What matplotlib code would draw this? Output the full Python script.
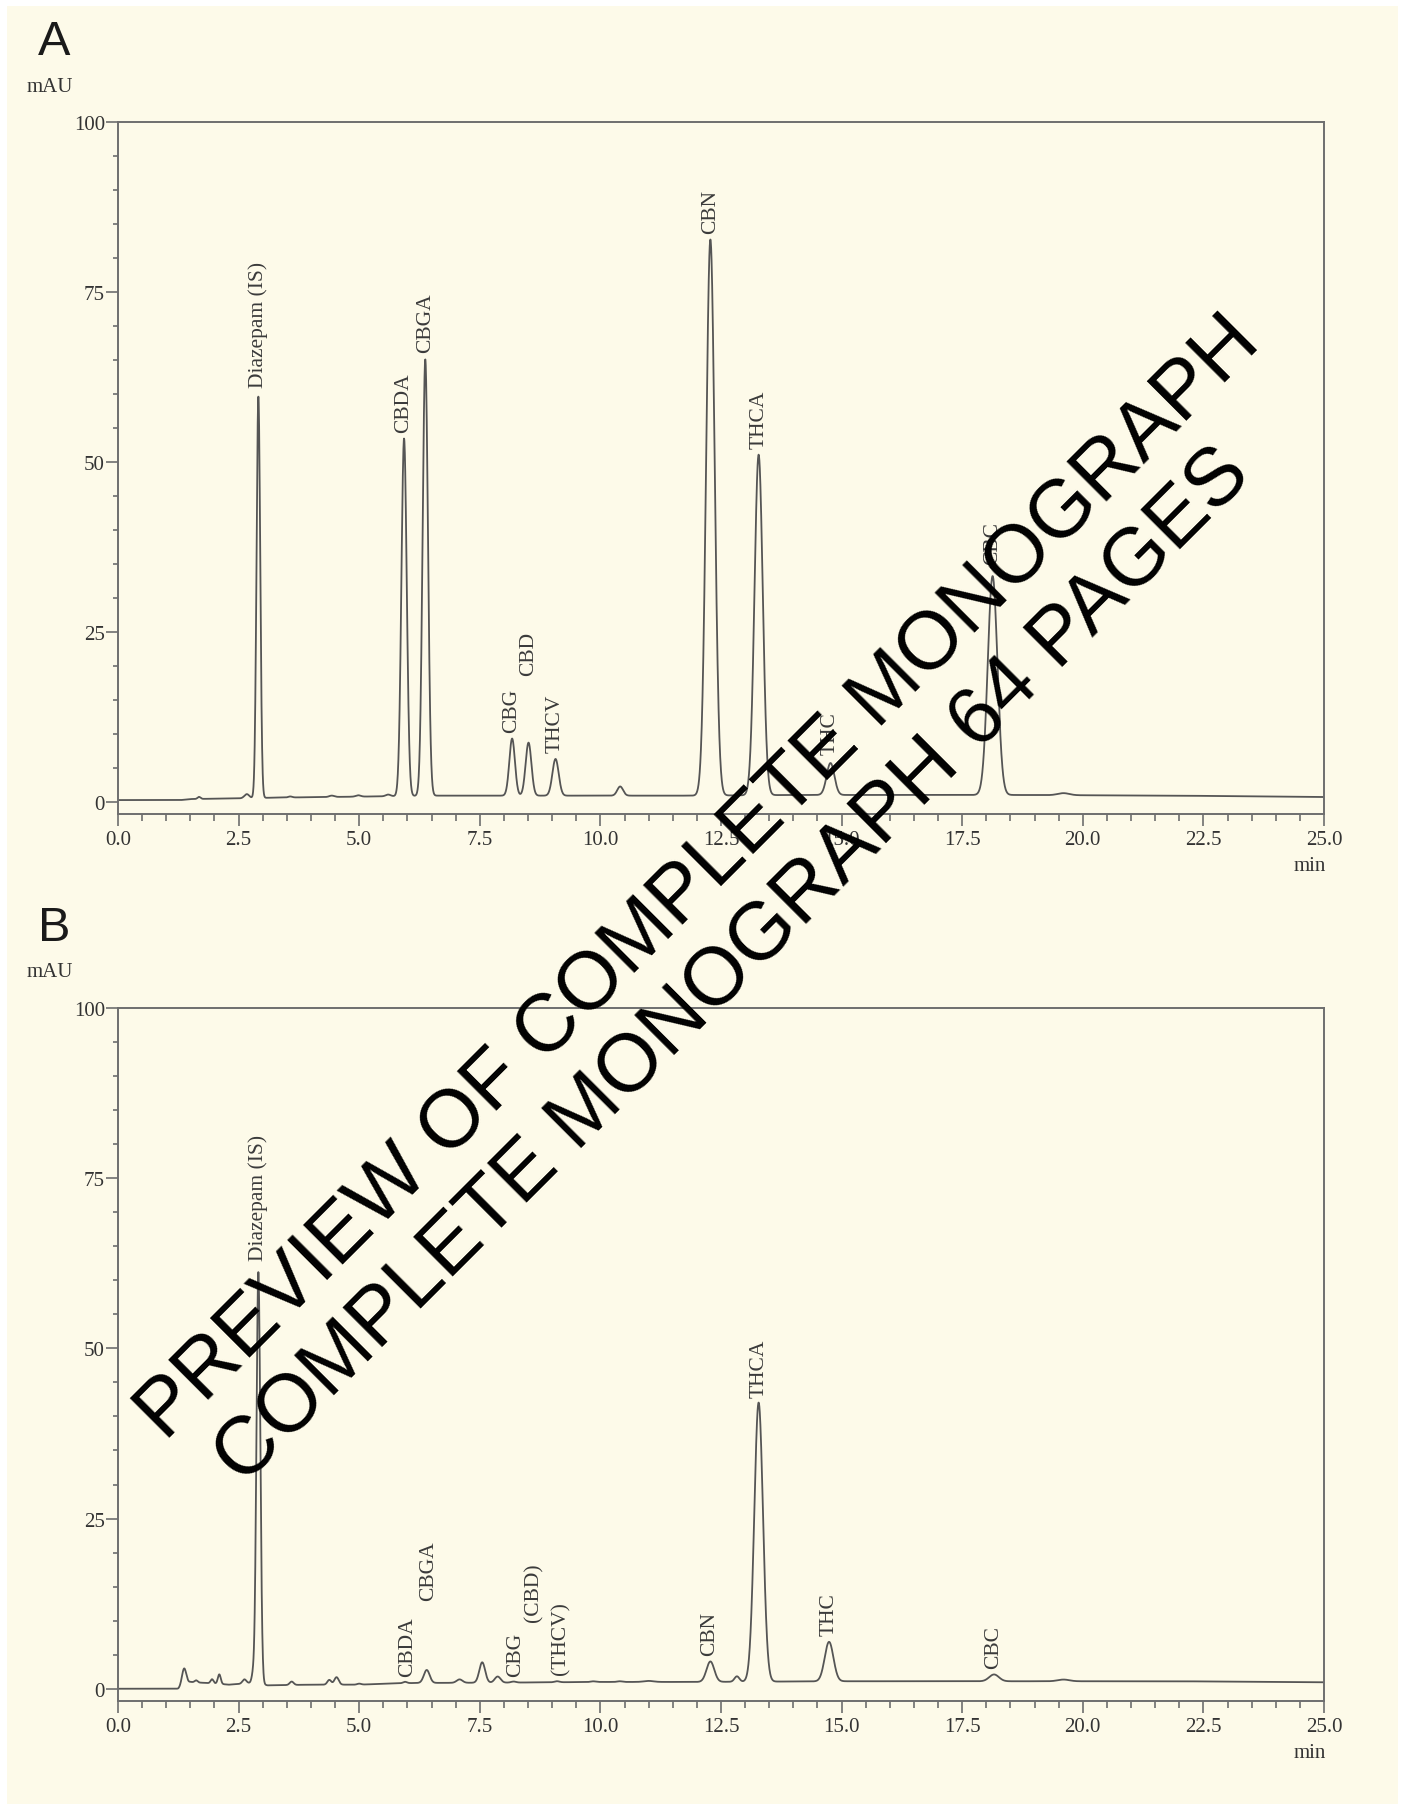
import numpy as np
import matplotlib
matplotlib.use("Agg")
import matplotlib.pyplot as plt
from matplotlib.patches import Rectangle
from matplotlib.ticker import MultipleLocator

# ---------------- data ----------------
# Panel A: peak table (retention time [min], height above baseline [mAU], width sigma [min])
a_rt    = [1.68, 2.67, 2.91, 3.57, 4.43, 4.98, 5.60, 5.93, 6.37, 8.17, 8.51, 9.07, 10.41, 12.28, 13.28, 14.77, 18.13, 19.60]
a_h     = [0.3,  0.6,  59.1, 0.15, 0.2,  0.2,  0.25, 52.6, 64.2, 8.4,  7.8,  5.4,  1.35,  81.8,  50.1,  4.7,   32.2,  0.3]
a_sig   = [0.03, 0.05, 0.038,0.04, 0.05, 0.05, 0.05, 0.055,0.055,0.058,0.06, 0.065,0.06,  0.088, 0.085, 0.08,  0.10,  0.12]
a_base_t = [0.0, 1.3, 1.5, 2.5, 3.2, 5.5, 6.6, 10.0, 12.0, 14.0, 18.5, 22.0, 24.9, 25.0]
a_base_v = [0.25, 0.25, 0.4, 0.5, 0.6, 0.8, 0.9, 0.9, 0.9, 1.0, 1.0, 0.9, 0.7, 0.7]
a_labels  = ["Diazepam (IS)", "CBDA", "CBGA", "CBG", "CBD", "THCV", "CBN", "THCA", "THC", "CBC"]
a_label_x = [2.91, 5.93, 6.37, 8.17, 8.51, 9.07, 12.28, 13.28, 14.77, 18.13]
a_label_y = [61.0, 54.4, 66.2, 10.3, 18.6, 7.3, 83.7, 52.1, 7.0, 35.0]

# Panel B
b_rt  = [1.37, 1.62, 1.95, 2.10, 2.62, 2.80, 2.91, 3.60, 4.38, 4.53, 5.00, 5.95, 6.40, 7.08, 7.55, 7.87, 8.20, 9.10, 9.85, 10.40, 11.00, 12.28, 12.83, 13.28, 14.74, 18.16, 19.60]
b_h   = [2.5,  0.3,  0.6,  1.4,  0.6,  1.2,  60.5, 0.5,  0.7,  1.1,  0.15, 0.2,  1.9,  0.5,  3.0,  0.9,  0.15, 0.15, 0.1,  0.1,   0.15,  3.0,   0.8,   41.0,  5.8,   1.0,   0.25]
b_sig = [0.045,0.03, 0.03, 0.03, 0.04, 0.03, 0.04, 0.04, 0.04, 0.045,0.04, 0.04, 0.06, 0.06, 0.06, 0.06, 0.05, 0.05, 0.05, 0.05,  0.10,  0.08,  0.05,  0.09,  0.09,  0.10,  0.12]
b_base_t = [0.0, 1.25, 1.5, 1.7, 1.95, 2.3, 2.5, 2.8, 3.1, 4.0, 5.0, 5.8, 6.2, 8.0, 10.0, 12.0, 15.0, 22.0, 24.9, 25.0]
b_base_v = [0.0, 0.0, 1.0, 0.9, 0.8, 0.6, 0.7, 0.9, 0.5, 0.6, 0.6, 0.8, 0.85, 0.9, 1.0, 1.0, 1.1, 1.1, 0.95, 0.95]
b_labels  = ["Diazepam (IS)", "CBDA", "CBGA", "CBG", "(CBD)", "(THCV)", "CBN", "THCA", "THC", "CBC"]
b_label_x = [2.91, 6.00, 6.43, 8.25, 8.62, 9.18, 12.27, 13.28, 14.74, 18.16]
b_label_y = [63.0, 1.8, 13.1, 1.8, 9.9, 2.2, 5.0, 42.9, 7.9, 3.1]

x_ticks = [0.0, 2.5, 5.0, 7.5, 10.0, 12.5, 15.0, 17.5, 20.0, 22.5, 25.0]
y_ticks = [0, 25, 50, 75, 100]

# ---------------- figure ----------------
W, H = 1404, 1808
CREAM = "#fdfae9"
fig = plt.figure(figsize=(W / 100, H / 100), dpi=100, facecolor="white")
fig.patches.append(Rectangle((7 / W, 3 / H), (1398 - 7) / W, (1801 - 3) / H,
                             transform=fig.transFigure, facecolor=CREAM,
                             edgecolor="none", zorder=-10))

SERIF = ["Liberation Serif", "DejaVu Serif"]
SANS = ["Liberation Sans", "DejaVu Sans"]
AXC = "#6e6e6e"
TXT = "#333333"


def trace(t, rts, hs, sigs, bt, bv):
    y = np.interp(t, bt, bv)
    for r, h, s in zip(rts, hs, sigs):
        y = y + h * np.exp(-0.5 * ((t - r) / s) ** 2)
    return y


t = np.linspace(0, 25, 6001)


def make_panel(top_px, bottom_px, rts, hs, sigs, bt, bv, labels, lx, ly, letter):
    left_px, right_px = 118, 1324
    ax = fig.add_axes([left_px / W, 1 - bottom_px / H, (right_px - left_px) / W,
                       (bottom_px - top_px) / H])
    ax.set_facecolor("none")
    y = trace(t, rts, hs, sigs, bt, bv)
    ax.plot(t, y, color="#555555", lw=1.3)
    ax.set_xlim(0, 25)
    ax.set_ylim(-1.8, 100)
    for s in ax.spines.values():
        s.set_color(AXC)
        s.set_linewidth(1.4)
    ax.set_xticks(x_ticks)
    ax.set_xticklabels([f"{v:.1f}" for v in x_ticks])
    ax.set_yticks(y_ticks)
    ax.set_yticklabels([str(v) for v in y_ticks])
    ax.xaxis.set_minor_locator(MultipleLocator(0.5))
    ax.yaxis.set_minor_locator(MultipleLocator(5))
    ax.tick_params(axis="x", which="major", direction="out", length=8.5, width=1.2,
                   color=AXC, pad=3, labelsize=15, labelcolor=TXT)
    ax.tick_params(axis="x", which="minor", direction="out", length=5, width=1.2, color=AXC)
    ax.tick_params(axis="y", which="major", direction="out", length=8.5, width=1.2,
                   color=AXC, pad=1, labelsize=15, labelcolor=TXT)
    ax.tick_params(axis="y", which="minor", direction="out", length=3.8, width=1.2, color=AXC)
    for lab in ax.get_xticklabels() + ax.get_yticklabels():
        lab.set_family(SERIF)
    for name, x, yy in zip(labels, lx, ly):
        ax.text(x, yy, name, rotation=90, ha="center", va="bottom",
                family=SERIF, fontsize=15.5, color="#3a3a3a")
    # annotations
    fig.text(38 / W, 1 - (top_px - 68) / H, letter, family=SANS, fontsize=35,
             color="#1a1a1a", ha="left", va="baseline")
    fig.text(50 / W, 1 - (top_px - 36) / H, "mAU", family=SERIF, fontsize=15,
             color=TXT, ha="center", va="center")
    fig.text(1326 / W, 1 - (bottom_px + 52) / H, "min", family=SERIF, fontsize=15,
             color=TXT, ha="right", va="center")
    return ax


make_panel(123, 815, a_rt, a_h, a_sig, a_base_t, a_base_v, a_labels, a_label_x, a_label_y, "A")
make_panel(1009, 1702, b_rt, b_h, b_sig, b_base_t, b_base_v, b_labels, b_label_x, b_label_y, "B")

# watermark
fig.text(699 / W, 1 - 879 / H, "PREVIEW OF COMPLETE MONOGRAPH", family=SANS,
         fontsize=58.8, color="black", rotation=45, rotation_mode="anchor",
         ha="center", va="center", zorder=20)
fig.text(733 / W, 1 - 967 / H, "COMPLETE MONOGRAPH 64 PAGES", family=SANS,
         fontsize=58.8, color="black", rotation=45, rotation_mode="anchor",
         ha="center", va="center", zorder=20)

fig.savefig("out.png", dpi=100, facecolor=fig.get_facecolor())
